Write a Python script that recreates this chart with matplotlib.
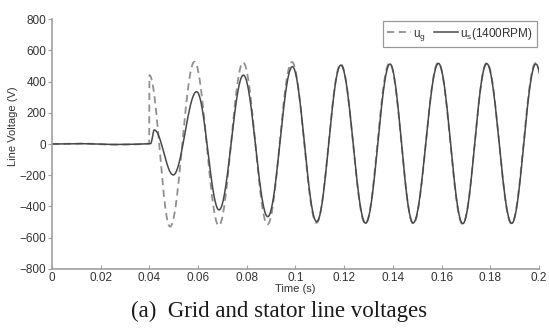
import numpy as np
import matplotlib
matplotlib.use("Agg")
import matplotlib.pyplot as plt

# extrema (time in s, voltage in V)
ug_t = [0.0, 0.012, 0.025, 0.033, 0.0399, 0.0400, 0.0485, 0.0585, 0.0685, 0.0785,
        0.0885, 0.0985, 0.1086, 0.1186, 0.1287, 0.1386, 0.1484, 0.1586, 0.1686,
        0.1786, 0.1887, 0.1986, 0.2086]
ug_v = [0, 3, -4, -3, 2, 441, -529, 527, -522, 522, -515, 525, -505, 512, -510,
        518, -510, 520, -512, 520, -510, 518, -512]

us_t = [0.0, 0.012, 0.025, 0.033, 0.0405, 0.0420, 0.0498, 0.0594, 0.0686, 0.0786,
        0.0886, 0.0987, 0.1087, 0.1186, 0.1288, 0.1388, 0.1483, 0.1587, 0.1687,
        0.1785, 0.1888, 0.1987, 0.2087]
us_v = [0, 2, -3, -2, 2, 90, -198, 335, -422, 441, -465, 495, -497, 505, -507,
        512, -506, 516, -510, 515, -508, 512, -510]


def smooth(t_pts, v_pts, n=40):
    # join the read extrema with half-cosine arcs
    tt, vv = [], []
    for i in range(len(t_pts) - 1):
        s = np.linspace(0, 1, n, endpoint=False)
        tt.append(t_pts[i] + (t_pts[i + 1] - t_pts[i]) * s)
        vv.append(v_pts[i] + (v_pts[i + 1] - v_pts[i]) * (1 - np.cos(np.pi * s)) / 2)
    tt.append([t_pts[-1]])
    vv.append([v_pts[-1]])
    return np.concatenate(tt), np.concatenate(vv)


plt.rcParams['font.family'] = ['Liberation Sans', 'DejaVu Sans']

fig = plt.figure(figsize=(5.49, 3.29), dpi=100)
ax = fig.add_axes([0.0947, 0.1824, 0.8871, 0.7598])

t1, v1 = smooth(ug_t, ug_v)
t2, v2 = smooth(us_t, us_v)
ax.plot(t1, v1, '--', color='#909090', lw=1.3, dashes=(4, 2.5), label='u$_\\mathregular{g}$')
ax.plot(t2, v2, '-', color='#484848', lw=1.1, label='u$_\\mathregular{s}$(1400RPM)')

ax.set_xlim(0, 0.2)
ax.set_ylim(-800, 800)
ax.set_xticks(np.arange(0, 0.201, 0.02))
ax.set_xticklabels(['0', '0.02', '0.04', '0.06', '0.08', '0.1', '0.12', '0.14',
                    '0.16', '0.18', '0.2'])
ax.set_yticks(np.arange(-800, 801, 200))
for side in ['top', 'right']:
    ax.spines[side].set_visible(False)
for side in ['left', 'bottom']:
    ax.spines[side].set_color('#a0a0a0')
    ax.spines[side].set_linewidth(1.2)
ax.tick_params(axis='both', labelsize=8.5, colors='#a0a0a0', labelcolor='#333333',
               length=3)
ax.tick_params(axis='x', direction='in', pad=2)
ax.tick_params(axis='y', direction='out', pad=1)

ax.set_xlabel('Time (s)', fontsize=8, color='#333333', labelpad=0)
ax.set_ylabel('Line Voltage (V)', fontsize=8, color='#333333', labelpad=4)
ax.yaxis.set_label_coords(-0.07, 0.57)

leg = ax.legend(loc='upper right', ncol=2, fontsize=8.5, handlelength=2.0,
                handletextpad=0.2, columnspacing=0.7, frameon=True, fancybox=False,
                borderpad=0.35, borderaxespad=0.2, bbox_to_anchor=(1.0, 1.0))
leg.get_frame().set_edgecolor('#808080')
leg.get_frame().set_linewidth(0.9)
for txt in leg.get_texts():
    txt.set_color('#333333')

fig.text(0.508, 0.037, '(a)  Grid and stator line voltages', ha='center',
         va='baseline', fontsize=16.5, family='Liberation Serif', color='#1a1a1a')

fig.savefig('out.png', dpi=100)
